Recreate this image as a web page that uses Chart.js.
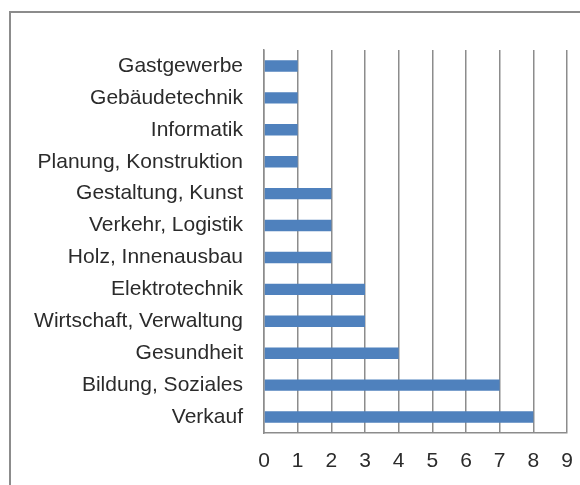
<!DOCTYPE html>
<html>
<head>
<meta charset="utf-8">
<script src="https://cdn.jsdelivr.net/npm/chart.js@4"></script>
<style>
  html, body { margin: 0; padding: 0; background: #fff; overflow: hidden; }
  #wrap { width: 580px; height: 485px; position: relative; }
</style>
</head>
<body>
<div id="wrap"><canvas id="grafico" width="580" height="485"></canvas></div>
<script>
const berufe = [
    "Gastgewerbe", "Gebäudetechnik", "Informatik", "Planung, Konstruktion",
    "Gestaltung, Kunst", "Verkehr, Logistik", "Holz, Innenausbau", "Elektrotechnik",
    "Wirtschaft, Verwaltung", "Gesundheit", "Bildung, Soziales", "Verkauf"
];
const anzahl = [1, 1, 1, 1, 2, 2, 2, 3, 3, 4, 7, 8];
const achseMax = 9;

const ctx = document.getElementById("grafico").getContext("2d");

// Rahmen um das Diagramm (rechts und unten ausserhalb des Bildes)
const rahmen = {
    id: "rahmen",
    beforeDraw(chart) {
        const c = chart.ctx;
        c.save();
        c.strokeStyle = "#8c8c8c";
        c.lineWidth = 2;
        c.beginPath();
        c.moveTo(10, 485);
        c.lineTo(10, 12);
        c.lineTo(580, 12);
        c.stroke();
        c.restore();
    }
};

const schrift = { family: "'Liberation Sans', Arial, sans-serif", size: 21 };

const config = {
    type: "bar",
    data: {
        labels: berufe,
        datasets: [
            {
                data: anzahl,
                backgroundColor: "#4f81bd",
                borderWidth: 0,
                barPercentage: 0.36,
                categoryPercentage: 1
            }
        ]
    },
    options: {
        indexAxis: "y",
        responsive: false,
        animation: false,
        layout: { padding: { top: 50, right: 13, left: 0, bottom: 0 } },
        plugins: { legend: { display: false }, tooltip: { enabled: false } },
        scales: {
            x: {
                min: 0,
                max: achseMax,
                ticks: { stepSize: 1, color: "#2b2b2b", font: schrift, padding: 16 },
                grid: { color: "#8c8c8c", lineWidth: 1.5, drawTicks: false },
                border: { color: "#8c8c8c", width: 1.5 },
                afterFit: (scale) => {
                    scale.height = 52;
                    scale.paddingLeft = 0;
                    scale.paddingRight = 0;
                }
            },
            y: {
                ticks: { color: "#2b2b2b", font: schrift, padding: 21 },
                grid: { display: false, drawTicks: false },
                border: { color: "#8c8c8c", width: 1.5 },
                afterFit: (scale) => { scale.width = 264; }
            }
        }
    },
    plugins: [rahmen]
};
const myChart = new Chart(ctx, config);
</script>
</body>
</html>
